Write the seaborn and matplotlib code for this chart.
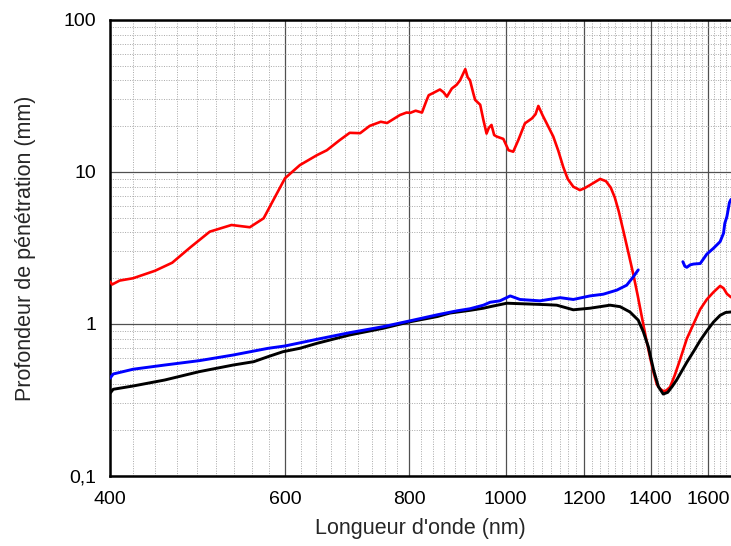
import numpy as np
import pandas as pd
import matplotlib
matplotlib.use("Agg")
import matplotlib.pyplot as plt
import matplotlib.ticker as mticker
import seaborn as sns

# wavelength (nm) / penetration depth (mm)
red_wl = [400, 402, 409, 422, 444, 462, 482, 504, 530, 553, 571, 584, 600, 621, 646, 661, 681, 697, 714, 730,
          749, 760, 783, 795, 802, 812, 824, 833, 837, 845, 859, 866, 873, 883, 893, 900, 906, 911, 916, 921,
          928, 932, 943, 950, 957, 962, 968, 974, 980, 995, 1007, 1018, 1030, 1046, 1063, 1072, 1079, 1090, 1100, 1117,
          1130, 1143, 1155, 1170, 1188, 1200, 1216, 1245, 1262, 1276, 1288, 1300, 1315, 1330, 1345, 1358, 1370, 1384, 1398, 1409,
          1420, 1430, 1441, 1451, 1464, 1480, 1498, 1522, 1552, 1570, 1594, 1619, 1644, 1657, 1670, 1686]
red_val = [1.9, 1.82, 1.93, 2.0, 2.24, 2.53, 3.2, 4.05, 4.48, 4.33, 4.96, 6.54, 9.1, 11.1, 12.9, 13.9, 16.2, 18.1, 18.0, 20.1,
           21.4, 21.0, 23.7, 24.6, 24.5, 25.3, 24.6, 29.7, 32, 33, 34.9, 33.5, 31.3, 35.4, 37.5, 40.1, 44, 47.5, 42, 40.1,
           33, 29.8, 27.7, 22, 17.9, 19.5, 20.4, 17.5, 17.1, 16.5, 13.9, 13.6, 16.2, 20.9, 22.5, 24, 27.2, 23.5, 20.9, 17.1,
           13.8, 10.8, 9.0, 8.0, 7.6, 7.8, 8.2, 9.0, 8.7, 7.9, 6.8, 5.5, 4.0, 2.9, 2.1, 1.55, 1.15, 0.82, 0.6, 0.48,
           0.40, 0.375, 0.362, 0.365, 0.385, 0.46, 0.58, 0.8, 1.06, 1.25, 1.45, 1.62, 1.78, 1.72, 1.58, 1.5]

black_wl = [400, 403, 422, 454, 492, 532, 558, 577, 597, 621, 646, 697, 753, 802, 854, 879, 921, 950, 965, 987,
            1003, 1067, 1100, 1126, 1150, 1170, 1216, 1274, 1304, 1334, 1360, 1376, 1392, 1409, 1425, 1441, 1456, 1472, 1487, 1522,
            1546, 1570, 1594, 1619, 1644, 1665, 1686]
black_val = [0.35, 0.372, 0.391, 0.428, 0.486, 0.537, 0.565, 0.61, 0.657, 0.692, 0.746, 0.847, 0.937, 1.035, 1.12, 1.18, 1.23, 1.27, 1.30, 1.34,
             1.37, 1.35, 1.34, 1.33, 1.28, 1.24, 1.27, 1.33, 1.30, 1.2, 1.06, 0.89, 0.71, 0.50, 0.387, 0.346, 0.355, 0.39, 0.43, 0.56,
             0.66, 0.78, 0.9, 1.03, 1.14, 1.19, 1.2]

blue1_wl = [400, 403, 422, 454, 492, 532, 577, 600, 646, 697, 753, 802, 854, 893, 921, 950, 965, 987, 1011, 1034,
            1083, 1135, 1170, 1216, 1254, 1294, 1324, 1345, 1360]
blue1_val = [0.44, 0.469, 0.504, 0.537, 0.574, 0.625, 0.692, 0.717, 0.793, 0.877, 0.96, 1.05, 1.15, 1.22, 1.26, 1.33, 1.39, 1.42, 1.53, 1.45,
             1.42, 1.49, 1.45, 1.53, 1.57, 1.67, 1.8, 2.05, 2.27]
blue2_wl = [1508, 1515, 1522, 1534, 1546, 1570, 1594, 1619, 1644, 1657, 1662, 1670, 1680, 1686]
blue2_val = [2.57, 2.4, 2.36, 2.45, 2.48, 2.5, 2.88, 3.15, 3.48, 3.95, 4.6, 5.08, 6.3, 6.6]

x_major = [400, 600, 800, 1000, 1200, 1400, 1600]
y_major = [0.1, 1, 10, 100]
y_labels = ["0,1", "1", "10", "100"]

sns.set_style("white")
plt.rcParams["font.family"] = ["Liberation Sans", "DejaVu Sans"]

fig = plt.figure(figsize=(7.31, 5.46), dpi=100)
ax = fig.add_axes([0.1505, 0.1282, 0.8495, 0.8352])

series = [
    (red_wl, red_val, "#ff0000", 1.9),
    (black_wl, black_val, "#000000", 2.1),
    (blue1_wl, blue1_val, "#0000ff", 2.1),
    (blue2_wl, blue2_val, "#0000ff", 2.1),
]
for wl, val, col, lw in series:
    df = pd.DataFrame({"wl": wl, "depth": val})
    sns.lineplot(data=df, x="wl", y="depth", color=col, linewidth=lw, ax=ax, zorder=3)

ax.set_xscale("log")
ax.set_yscale("log")
ax.set_xlim(400, 1686)
ax.set_ylim(0.1, 100)

# x: majors every 200 nm, 8 evenly spaced minors in each interval
edges = x_major + [1800]
x_minor = []
for a, b in zip(edges[:-1], edges[1:]):
    x_minor += list(np.linspace(a, b, 10)[1:-1])
ax.xaxis.set_major_locator(mticker.FixedLocator(x_major))
ax.xaxis.set_major_formatter(mticker.FixedFormatter([str(v) for v in x_major]))
ax.xaxis.set_minor_locator(mticker.FixedLocator(x_minor))
ax.xaxis.set_minor_formatter(mticker.NullFormatter())

ax.yaxis.set_major_locator(mticker.FixedLocator(y_major))
ax.yaxis.set_major_formatter(mticker.FixedFormatter(y_labels))
ax.yaxis.set_minor_locator(mticker.LogLocator(base=10, subs=np.arange(2, 10)))
ax.yaxis.set_minor_formatter(mticker.NullFormatter())

ax.grid(which="major", color="#505050", linewidth=0.9, linestyle="-")
ax.grid(which="minor", color="#a8a8a8", linewidth=0.7, linestyle=(0, (1, 1.5)))
ax.set_axisbelow(True)

for side in ["left", "bottom", "top"]:
    ax.spines[side].set_visible(True)
    ax.spines[side].set_color("black")
    ax.spines[side].set_linewidth(1.8)
ax.spines["right"].set_visible(False)

ax.tick_params(axis="both", which="major", direction="out", length=7, width=1.6,
               labelsize=14, colors="black", top=False, right=False, pad=3)
ax.tick_params(axis="both", which="minor", direction="out", length=4, width=1.2,
               top=False, right=False)
ax.tick_params(axis="x", which="major", length=5, pad=6)

ax.set_xlabel("Longueur d'onde (nm)", fontsize=15.5, labelpad=7)
ax.set_ylabel("Profondeur de pénétration (mm)", fontsize=15.5, labelpad=20)

fig.savefig("out.png", dpi=100)
